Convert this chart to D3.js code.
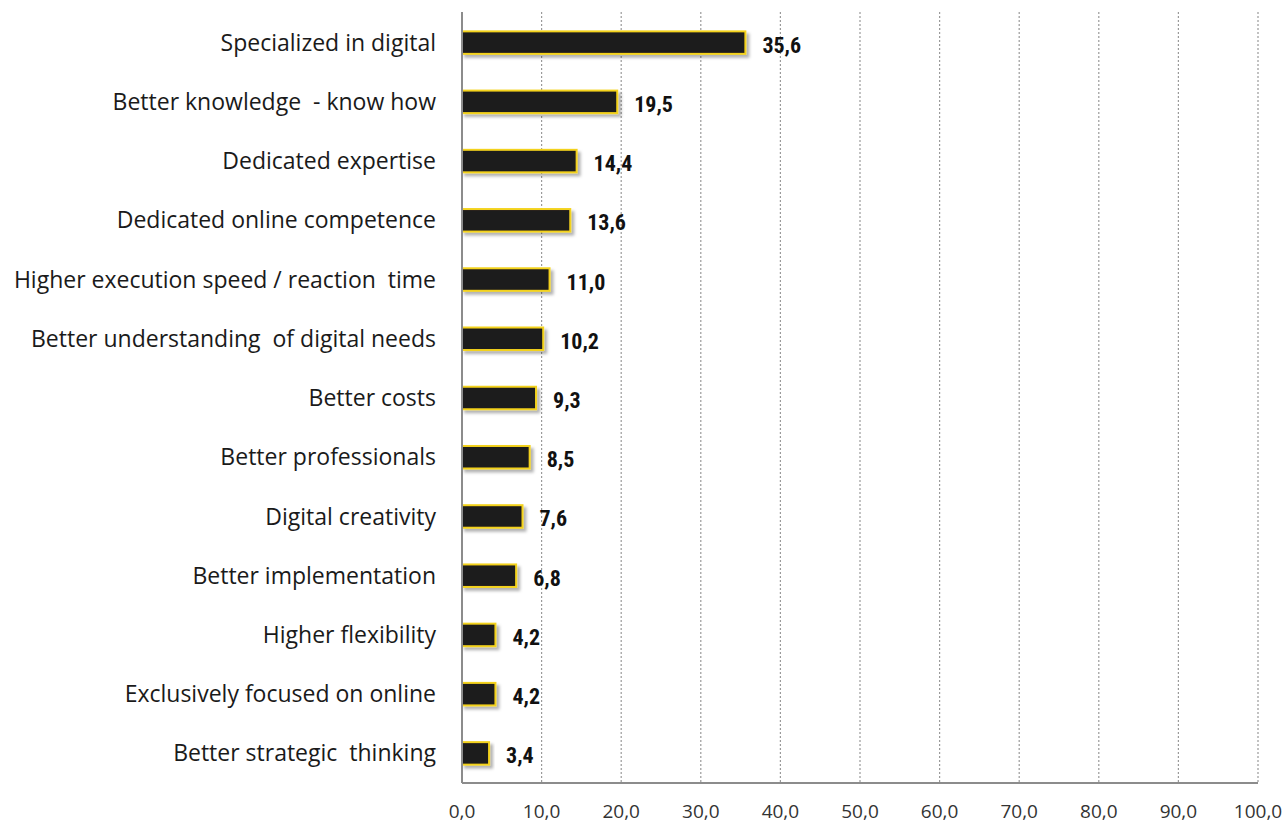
<!DOCTYPE html>
<html>
<head>
<meta charset="utf-8">
<script src="https://cdn.jsdelivr.net/npm/d3@7"></script>
<style>
  html, body { margin: 0; padding: 0; background: #fff; }
  svg { display: block; }
</style>
</head>
<body>
<svg id="chart" width="1287" height="826"></svg>
<script>
// Reasons for choosing a digital specialist (%)
const categories = [
  "Specialized in digital",
  "Better knowledge  - know how",
  "Dedicated expertise",
  "Dedicated online competence",
  "Higher execution speed / reaction  time",
  "Better understanding  of digital needs",
  "Better costs",
  "Better professionals",
  "Digital creativity",
  "Better implementation",
  "Higher flexibility",
  "Exclusively focused on online",
  "Better strategic  thinking"
];
const values = [35.6, 19.5, 14.4, 13.6, 11.0, 10.2, 9.3, 8.5, 7.6, 6.8, 4.2, 4.2, 3.4];
const xTicks = [0, 10, 20, 30, 40, 50, 60, 70, 80, 90, 100];

const svg = d3.select("#chart");
const margin = { left: 462, right: 29, top: 13, bottom: 43 };
const W = 1287, H = 826;

const x = d3.scaleLinear().domain([0, 100]).range([margin.left, W - margin.right]);
const y = d3.scaleBand().domain(categories).range([margin.top, H - margin.bottom]).paddingInner(0.62).paddingOuter(0.31);

const fmt = v => v.toFixed(1).replace(".", ",");

// drop shadow for bars
const defs = svg.append("defs");
const f = defs.append("filter").attr("id", "shadow").attr("x", "-10%").attr("y", "-30%").attr("width", "130%").attr("height", "190%");
f.append("feDropShadow").attr("dx", 3).attr("dy", 3).attr("stdDeviation", 1.6)
  .attr("flood-color", "#000").attr("flood-opacity", 0.3);

// vertical dotted gridlines
svg.append("g").selectAll("line").data(xTicks.slice(1)).join("line")
  .attr("x1", d => x(d)).attr("x2", d => x(d))
  .attr("y1", margin.top - 1).attr("y2", H - margin.bottom)
  .attr("stroke", "#9a9a9a").attr("stroke-width", 1.2).attr("stroke-dasharray", "2,2");

// bars
svg.append("g").selectAll("rect").data(values).join("rect")
  .attr("x", x(0))
  .attr("y", (d, i) => y(categories[i]))
  .attr("width", d => x(d) - x(0))
  .attr("height", y.bandwidth())
  .attr("fill", "#1e1a1f")
  .attr("stroke", "#f3d21c")
  .attr("stroke-width", 2)
  .attr("filter", "url(#shadow)");

// axes lines
svg.append("line").attr("x1", x(0)).attr("x2", x(0)).attr("y1", margin.top - 1).attr("y2", H - margin.bottom)
  .attr("stroke", "#8c8c8c").attr("stroke-width", 2);
svg.append("line").attr("x1", x(0)).attr("x2", x(100)).attr("y1", H - margin.bottom).attr("y2", H - margin.bottom)
  .attr("stroke", "#8c8c8c").attr("stroke-width", 2);

// category labels
svg.append("g").selectAll("text").data(categories).join("text")
  .attr("x", x(0) - 26)
  .attr("y", d => y(d) + y.bandwidth() / 2)
  .attr("dy", "0.35em")
  .attr("text-anchor", "end")
  .attr("font-family", "'Open Sans', sans-serif")
  .attr("font-size", 23)
  .attr("fill", "#1a1a1a")
  .style("white-space", "pre")
  .text(d => d);

// value labels
svg.append("g").selectAll("text").data(values).join("text")
  .attr("x", d => x(d) + 17)
  .attr("y", (d, i) => y(categories[i]) + y.bandwidth() / 2 + 10)
  .attr("font-family", "'Liberation Sans Narrow', 'Roboto Condensed', sans-serif")
  .attr("font-weight", "bold")
  .attr("font-size", 22)
  .attr("fill", "#111")
  .text(d => fmt(d));

// x tick labels
svg.append("g").selectAll("text").data(xTicks).join("text")
  .attr("x", d => x(d))
  .attr("y", 818)
  .attr("text-anchor", "middle")
  .attr("font-family", "'Open Sans', sans-serif")
  .attr("font-size", 19)
  .attr("fill", "#333")
  .text(d => fmt(d));
</script>
</body>
</html>
